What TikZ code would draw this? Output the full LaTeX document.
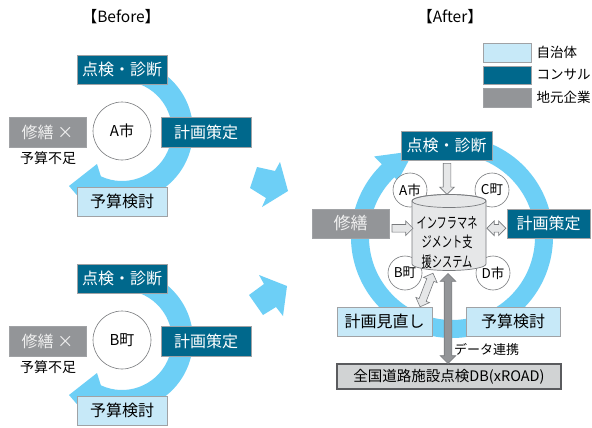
\documentclass[tikz,border=0pt]{standalone}
\usepackage{fontspec}
\setmainfont{Noto Sans CJK JP}
\usepackage{graphicx}
\usetikzlibrary{shapes.arrows,calc}
\definecolor{consteal}{RGB}{0,104,140}
\definecolor{munblue}{RGB}{199,233,248}
\definecolor{locgray}{RGB}{147,149,152}
\definecolor{arcblue}{RGB}{109,207,246}
\definecolor{bordgray}{RGB}{160,162,165}
\definecolor{cylfill}{RGB}{230,231,232}
\definecolor{cylbord}{RGB}{120,122,125}
\definecolor{dbfill}{RGB}{209,211,212}
\definecolor{dbbord}{RGB}{90,91,94}
\tikzset{
  fs/.style={font=\fontsize{#1}{#1}\selectfont},
  box/.style={draw=bordgray, line width=0.8pt, inner sep=0pt, fs=16},
  cons/.style={box, fill=consteal, text=white},
  muni/.style={box, fill=munblue, text=black},
  local/.style={box, fill=locgray, text=white!94!black},
  town/.style={circle, draw=cylbord, fill=white, line width=0.6pt, inner sep=0pt, fs=14},
  plain/.style={inner sep=0pt, fs=13},
  hollow/.style={single arrow, draw=cylbord, fill=cylfill, line width=0.6pt,
    inner xsep=0pt, inner ysep=3.5pt, single arrow head extend=3.5pt, single arrow head indent=0pt},
  hollowdbl/.style={double arrow, draw=cylbord, fill=cylfill, line width=0.6pt,
    inner xsep=0pt, inner ysep=3.5pt, double arrow head extend=3.5pt, double arrow head indent=0pt},
}
\newcommand\beforecycle[3]{%
\begin{scope}[shift={(0,#2)}]
  \fill[arcblue] ([shift={(-80:71)}]122,131) arc[start angle=-80,end angle=115,radius=71]
     -- (82,201) -- (69,186) -- (97,164) -- ([shift={(115:50)}]122,131)
     arc[start angle=115,end angle=-80,radius=50] -- cycle;
  \node[cons, minimum width=90pt, minimum height=29pt] (#1top) at (122,69.5) {点検・診断};
  \node[town, minimum size=58pt, fs=15] (#1c) at (122,131) {#3};
  \node[local, minimum width=77pt, minimum height=30pt] (#1rep) at (47.5,132) {修繕 ×};
  \node[plain, fs=14] (#1short) at (48,158.5) {予算不足};
  \node[cons, minimum width=90pt, minimum height=30pt] (#1plan) at (206,132) {計画策定};
  \node[muni, minimum width=90pt, minimum height=29pt] (#1bud) at (122,201.5) {予算検討};
\end{scope}}
\begin{document}
\begin{tikzpicture}[x=1pt,y=-1pt]
\useasboundingbox[fill=white] (0,0) rectangle (592,428);

% ---------- Before ----------
\node[plain, fs=15.5] (tb) at (121,17) {【Before】};
\beforecycle{a}{0}{A市}
\beforecycle{b}{209}{B町}

% big transition arrows
\fill[arcblue] (250,188) -- (257,167) -- (275,171) -- (280,162) -- (288,191) -- (262,207) -- (266,198) -- cycle;
\fill[arcblue] (249,295) -- (264,284) -- (259,275) -- (287,286) -- (283,316) -- (276,307) -- (263,315) -- cycle;

% ---------- After ----------
\node[plain, fs=15.5] (ta) at (450,17) {【After】};

% legend
\node[muni, minimum width=48pt, minimum height=19pt] (lg1) at (507,52.5) {};
\node[cons, minimum width=48pt, minimum height=18pt] (lg2) at (507,75) {};
\node[local, minimum width=48pt, minimum height=19pt] (lg3) at (507,97.5) {};
\node[plain, fs=13.5, anchor=west] (lt1) at ([xshift=5pt]lg1.east) {自治体};
\node[plain, fs=13.5, anchor=west] (lt2) at ([xshift=5pt]lg2.east) {コンサル};
\node[plain, fs=13.5, anchor=west] (lt3) at ([xshift=5pt]lg3.east) {地元企業};

% ring
\fill[arcblue] ([shift={(-75:101)}]452,237) arc[start angle=-75,end angle=226,radius=101]
   -- ([shift={(226:112)}]452,237) -- ([shift={(246:94)}]452,237)
   -- ([shift={(226:78)}]452,237) -- ([shift={(226:83)}]452,237)
   arc[start angle=226,end angle=-75,radius=83] -- cycle;

\node[cons, minimum width=91pt, minimum height=29pt] (top) at (446.5,145.5) {点検・診断};

% towns
\node[town, minimum size=34pt, fs=13.5] (ca) at (410,190) {A市};
\node[town, minimum size=34pt, fs=13.5] (cc) at (492,190) {C町};
\node[town, minimum size=34pt, fs=13.5] (cb) at (405,273) {B町};
\node[town, minimum size=34pt, fs=13.5] (cd) at (493,273) {D市};

% cylinder
\filldraw[fill=cylfill, draw=cylbord, line width=0.7pt] (412,201) -- (412,264)
   arc[start angle=180,end angle=0,x radius=37,y radius=6.5] -- (486,201)
   arc[start angle=0,end angle=-180,x radius=37,y radius=6.5] -- cycle;
\draw[cylbord, line width=0.7pt] (449,201) ellipse[x radius=37,y radius=6.5];
\node[minimum width=74pt, minimum height=76pt, inner sep=0pt] (cyl) at (449,233) {};
\node[plain, align=center, font=\fontsize{15}{19.5}\selectfont] (sys) at (447,242.5)
   {\scalebox{0.68}[1]{インフラマネ}\\\scalebox{0.68}[1]{ジメント支}\\\scalebox{0.68}[1]{援システム}};

% boxes
\node[local, minimum width=77pt, minimum height=29pt, fs=17] (rep) at (350.5,223.5) {修繕};
\node[cons, minimum width=83pt, minimum height=29pt] (plan) at (548.5,223.5) {計画策定};
\node[muni, minimum width=95pt, minimum height=29pt] (rev) at (384.5,321.5) {計画見直し};
\node[muni, minimum width=94pt, minimum height=29pt] (bud) at (513,321.5) {予算検討};
\node[box, fill=dbfill, draw=dbbord, line width=1.1pt, minimum width=224pt, minimum height=25pt, fs=14.5]
   (db) at (449,376.5) {全国道路施設点検DB(xROAD)};

% hollow arrows
\node[hollow, minimum height=21pt] (ar1) at ($(rep.east)!0.5!(cyl.west)$) {};
\node[hollowdbl, minimum height=19pt] (ar2) at ($(cyl.east)!0.5!(plan.west)$) {};
\node[hollow, minimum height=31pt, rotate=-90] (ar3) at (447,177) {};
\node[hollowdbl, minimum height=36pt, rotate=69] (ar4) at (426.5,290) {};

% data link arrow
\node[double arrow, draw=cylbord, fill=locgray, line width=0.6pt, inner xsep=0pt, inner ysep=3.5pt,
   double arrow head extend=4pt, double arrow head indent=0pt, minimum height=90pt, rotate=90]
   (ar5) at (448,318.5) {};
\node[plain, anchor=west] (dl) at (454,349) {データ連携};
\end{tikzpicture}
\end{document}
